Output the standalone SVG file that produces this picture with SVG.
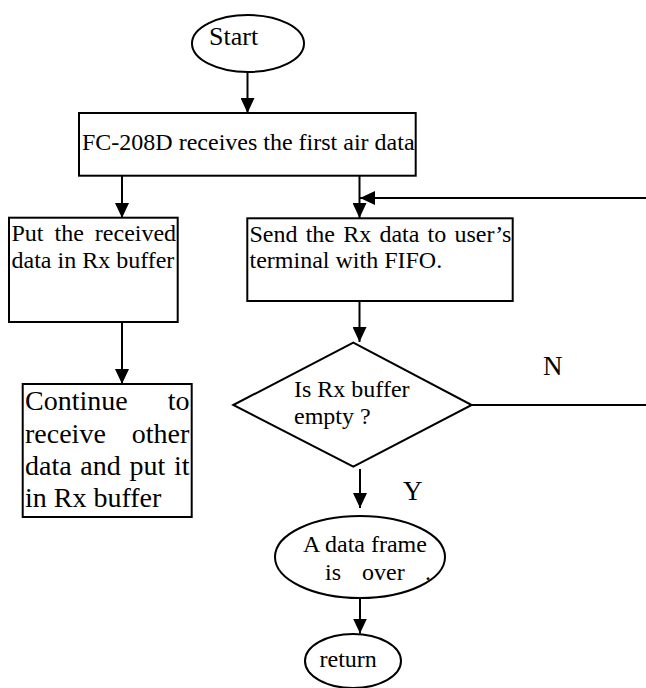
<svg xmlns="http://www.w3.org/2000/svg" width="646" height="688" viewBox="0 0 646 688" font-family="'Liberation Serif', 'Times New Roman', Times, serif">
<style>
.s{fill:#fff;stroke:#000;stroke-width:2}
.c{fill:none;stroke:#000;stroke-width:2}
.t{font-family:'Liberation Serif','Times New Roman',Times,serif;fill:#000;font-size:24px}
</style>
<defs>
<marker id="ah" markerUnits="userSpaceOnUse" markerWidth="16" markerHeight="14" refX="15" refY="7" orient="auto">
<path d="M0,0 L15,7 L0,14 z" fill="#000"/>
</marker>
</defs>
<rect width="646" height="688" fill="#fff"/>
<g id="connectors">
<path class="c" d="M247.5,72 V113" marker-end="url(#ah)"/>
<path class="c" d="M122,176 V218" marker-end="url(#ah)"/>
<path class="c" d="M359.5,176 V218" marker-end="url(#ah)"/>
<path class="c" d="M650,198 H360" marker-end="url(#ah)"/>
<path class="c" d="M122,322 V384" marker-end="url(#ah)"/>
<path class="c" d="M359.5,301 V342" marker-end="url(#ah)"/>
<path class="c" d="M471.7,405 H650"/>
<path class="c" d="M360,469 V508" marker-end="url(#ah)"/>
<path class="c" d="M360,592 V633.5" marker-end="url(#ah)"/>
</g>
<g id="start">
<ellipse class="s" cx="248" cy="43.5" rx="56" ry="28.5"/>
<text class="t" x="209" y="45" style="font-size:26px">Start</text>
</g>
<g id="receive">
<rect class="s" x="79" y="113" width="336.7" height="62.7"/>
<text class="t" x="82" y="150">FC-208D receives the first air data</text>
</g>
<g id="put">
<rect class="s" x="9" y="217.7" width="168.7" height="104.3"/>
<text class="t" x="11.5" y="241" word-spacing="5">Put the received</text>
<text class="t" x="11.5" y="268">data in Rx buffer</text>
</g>
<g id="send">
<rect class="s" x="247.3" y="218.3" width="265.4" height="82.7"/>
<text class="t" x="249.5" y="242" word-spacing="2.2">Send the Rx data to user’s</text>
<text class="t" x="249.5" y="268">terminal with FIFO.</text>
</g>
<g id="continue">
<rect class="s" x="22.7" y="384" width="169" height="133"/>
<text class="t" x="25" y="410" style="font-size:28px" word-spacing="33">Continue to</text>
<text class="t" x="25" y="443" style="font-size:28px" word-spacing="19">receive other</text>
<text class="t" x="25" y="475" style="font-size:28px" word-spacing="1.7">data and put it</text>
<text class="t" x="25" y="507" style="font-size:28px">in Rx buffer</text>
</g>
<g id="decision">
<polygon class="s" points="233.3,405 353.3,342.7 471.7,405 353.3,466.7"/>
<text class="t" x="294" y="397">Is Rx buffer</text>
<text class="t" x="294" y="424">empty ?</text>
<text class="t" x="543" y="375" style="font-size:27px">N</text>
<text class="t" x="403" y="500" style="font-size:27px">Y</text>
</g>
<g id="over">
<ellipse class="s" cx="360" cy="557" rx="85" ry="41"/>
<text class="t" x="303" y="552">A data frame</text>
<text class="t" x="325" y="580">is</text>
<text class="t" x="362" y="580">over</text>
<text class="t" x="425" y="580">.</text>
</g>
<g id="return">
<ellipse class="s" cx="353" cy="661" rx="48" ry="27"/>
<text class="t" x="319.5" y="667">return</text>
</g>
</svg>
